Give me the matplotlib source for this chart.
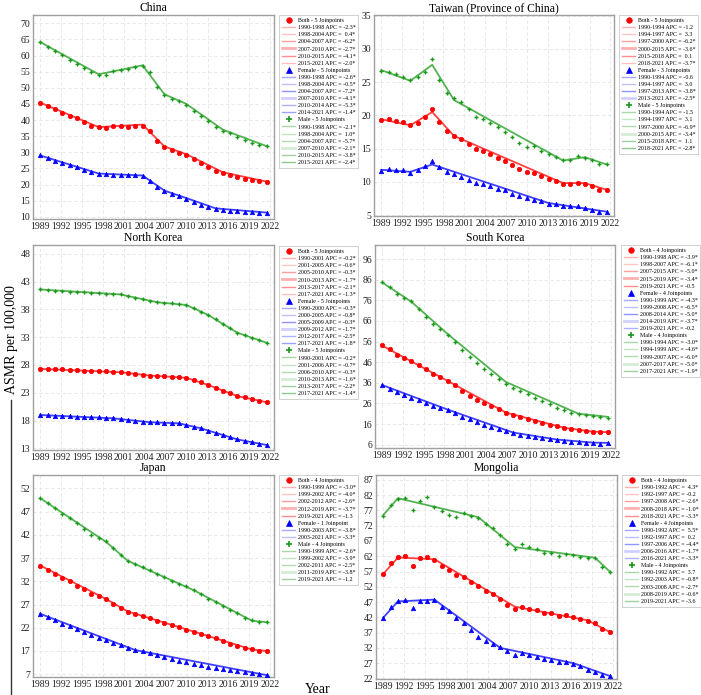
import matplotlib
matplotlib.use("Agg")
import matplotlib.pyplot as plt
from matplotlib.lines import Line2D

plt.rcParams['font.family'] = ['Liberation Serif', 'DejaVu Serif']

years = list(range(1990, 2022))
x_tick_labels = [str(y) for y in range(1989, 2023, 3)]

# ---- China ----
china_both = [45.4, 44.5, 43.3, 42.3, 41.2, 40.5, 39.4, 38.3, 37.8, 37.6, 38.1, 38.1, 38.0, 38.2, 38.3, 36.7,
              33.6, 31.6, 30.8, 29.9, 29.1, 27.8, 26.6, 25.3, 24.2, 23.5, 23.0, 22.3, 21.8, 21.4, 21.1, 20.7]
china_both_jp = [1990, 1998, 2004, 2007, 2010, 2015, 2021]
china_both_fit = [45.4, 37.8, 38.6, 31.8, 29.4, 23.8, 20.9]
china_both_apc = ["-2.3*", "0.4*", "-6.2*", "-2.7*", "-4.1*", "-2.0*"]
china_female = [29.1, 28.3, 27.4, 26.7, 26.1, 25.3, 24.6, 23.9, 23.3, 23.2, 23.1, 23.1, 22.9, 22.8, 22.6, 21.1,
                19.3, 17.9, 17.1, 16.4, 15.6, 14.6, 13.6, 12.9, 12.3, 12.1, 11.8, 11.7, 11.5, 11.4, 11.2, 11.1]
china_female_jp = [1990, 1998, 2004, 2007, 2010, 2014, 2021]
china_female_fit = [29.0, 23.4, 22.8, 18.1, 15.8, 12.6, 11.3]
china_female_apc = ["-2.6*", "-0.5*", "-7.2*", "-4.1*", "-5.3*", "-1.4*"]
china_male = [64.2, 62.8, 61.5, 60.1, 58.5, 57.5, 56.1, 54.9, 54.1, 54.0, 55.2, 55.4, 55.8, 56.5, 56.9, 54.8,
              50.3, 47.7, 46.6, 45.8, 44.6, 42.9, 41.3, 39.8, 37.9, 36.6, 35.9, 34.8, 33.8, 32.9, 32.4, 31.8]
china_male_jp = [1990, 1998, 2004, 2007, 2010, 2015, 2021]
china_male_fit = [64.2, 54.2, 57.0, 48.0, 45.0, 37.0, 31.9]
china_male_apc = ["-2.1*", "1.0*", "-5.7*", "-2.1*", "-3.8*", "-2.4*"]

# ---- Taiwan (Province of China) ----
taiwan_both = [19.3, 19.4, 19.2, 19.0, 18.6, 18.9, 19.7, 21.0, 19.0, 17.6, 16.9, 16.5, 15.7, 14.9, 14.7, 14.2,
               13.6, 13.1, 12.5, 11.9, 11.4, 11.3, 10.9, 10.4, 10.1, 9.7, 9.7, 9.8, 9.6, 9.3, 8.8, 8.8]
taiwan_both_jp = [1990, 1994, 1997, 2000, 2015, 2018, 2021]
taiwan_both_fit = [19.4, 18.5, 20.5, 16.9, 9.8, 9.8, 8.8]
taiwan_both_apc = ["-1.2", "3.3", "-6.2*", "-3.6*", "0.1", "-3.7*"]
taiwan_female = [11.6, 11.9, 11.8, 11.8, 11.3, 11.8, 12.4, 13.1, 12.2, 11.5, 11.1, 10.7, 10.2, 9.8, 9.7, 9.3,
                 8.9, 8.7, 8.1, 7.9, 7.6, 7.3, 7.1, 6.7, 6.6, 6.4, 6.3, 6.3, 6.1, 5.8, 5.4, 5.5]
taiwan_female_jp = [1990, 1994, 1997, 2013, 2021]
taiwan_female_fit = [11.8, 11.5, 12.6, 6.8, 5.5]
taiwan_female_apc = ["-0.6", "3.0", "-3.8*", "-2.5*"]
taiwan_male = [26.7, 26.5, 26.2, 25.8, 25.3, 25.7, 26.5, 28.5, 25.3, 23.4, 22.6, 22.0, 21.0, 19.8, 19.5, 18.9,
               18.2, 17.5, 16.8, 15.9, 15.3, 15.4, 14.7, 14.2, 13.8, 13.3, 13.3, 13.9, 13.6, 13.3, 12.7, 12.7]
taiwan_male_jp = [1990, 1994, 1997, 2000, 2015, 2018, 2021]
taiwan_male_fit = [26.8, 25.2, 27.6, 22.3, 13.2, 13.7, 12.6]
taiwan_male_apc = ["-1.5", "3.1", "-6.9*", "-3.4*", "1.1", "-2.8*"]

# ---- North Korea ----
nkorea_both = [27.3, 27.3, 27.2, 27.2, 27.1, 27.1, 27.0, 27.0, 26.9, 26.9, 26.8, 26.7, 26.5, 26.4, 26.2, 26.1,
               26.0, 26.0, 25.9, 25.8, 25.7, 25.3, 24.9, 24.4, 23.9, 23.4, 22.9, 22.5, 22.2, 21.9, 21.6, 21.3]
nkorea_both_jp = [1990, 2001, 2005, 2010, 2013, 2017, 2021]
nkorea_both_fit = [27.3, 26.7, 26.1, 25.7, 24.4, 22.4, 21.3]
nkorea_both_apc = ["-0.2*", "-0.6*", "-0.3*", "-1.7*", "-2.1*", "-1.3*"]
nkorea_female = [19.0, 19.0, 18.9, 18.8, 18.8, 18.7, 18.7, 18.6, 18.6, 18.5, 18.4, 18.3, 18.1, 18.0, 17.8, 17.7,
                 17.7, 17.6, 17.6, 17.5, 17.2, 16.9, 16.6, 16.2, 15.8, 15.4, 15.0, 14.6, 14.4, 14.1, 13.8, 13.6]
nkorea_female_jp = [1990, 2000, 2005, 2009, 2012, 2017, 2021]
nkorea_female_fit = [19.0, 18.4, 17.7, 17.5, 16.6, 14.6, 13.6]
nkorea_female_apc = ["-0.3*", "-0.8*", "-0.3*", "-1.7*", "-2.5*", "-1.8*"]
nkorea_male = [41.6, 41.5, 41.4, 41.3, 41.2, 41.1, 41.1, 41.0, 40.9, 40.8, 40.8, 40.7, 40.4, 40.1, 39.8, 39.6,
               39.3, 39.2, 39.1, 38.9, 38.8, 38.2, 37.6, 37.0, 36.2, 35.4, 34.6, 33.8, 33.4, 32.9, 32.5, 32.0]
nkorea_male_jp = [1990, 2001, 2006, 2010, 2013, 2017, 2021]
nkorea_male_fit = [41.6, 40.7, 39.3, 38.8, 37.0, 33.8, 32.0]
nkorea_male_apc = ["-0.2*", "-0.7*", "-0.3*", "-1.6*", "-2.2*", "-1.4*"]

# ---- South Korea ----
skorea_both = [54.2, 52.3, 49.5, 47.8, 46.5, 44.7, 42.5, 40.4, 38.7, 37.1, 34.9, 32.0, 29.7, 27.9, 26.3, 24.9,
               23.3, 21.5, 20.4, 19.2, 18.3, 17.3, 16.3, 15.5, 14.9, 14.1, 13.6, 13.1, 12.6, 12.3, 12.0, 12.1]
skorea_both_jp = [1990, 1998, 2007, 2015, 2019, 2021]
skorea_both_fit = [54.0, 38.8, 21.6, 14.2, 12.3, 12.1]
skorea_both_apc = ["-3.9*", "-6.1*", "-5.0*", "-3.4*", "-0.5"]
skorea_female = [34.9, 32.9, 31.5, 29.9, 28.6, 27.5, 26.2, 24.9, 23.9, 22.8, 21.3, 19.5, 18.3, 17.0, 15.7, 14.5,
                 13.4, 12.5, 11.6, 10.8, 10.2, 9.7, 9.1, 8.6, 8.1, 7.8, 7.5, 7.3, 7.0, 6.6, 6.5, 6.6]
skorea_female_jp = [1990, 1999, 2008, 2014, 2019, 2021]
skorea_female_fit = [34.9, 23.0, 11.9, 8.5, 7.0, 6.9]
skorea_female_apc = ["-4.3*", "-6.5*", "-5.0*", "-3.7*", "-0.2"]
skorea_male = [85.0, 82.6, 78.9, 77.0, 75.8, 71.6, 68.1, 64.5, 62.0, 59.4, 55.8, 52.0, 48.4, 45.5, 42.6, 40.2,
               37.8, 35.4, 33.6, 31.8, 30.4, 28.7, 27.0, 25.5, 23.9, 22.8, 21.6, 21.0, 20.4, 19.7, 19.2, 19.1]
skorea_male_jp = [1990, 1994, 1999, 2007, 2017, 2021]
skorea_male_fit = [84.6, 75.3, 59.6, 36.4, 21.0, 19.5]
skorea_male_apc = ["-3.0*", "-4.6*", "-6.0*", "-5.0*", "-1.9*"]

# ---- Japan ----
japan_both = [30.4, 29.5, 28.6, 27.8, 27.0, 26.1, 25.3, 24.3, 23.9, 23.2, 22.2, 21.3, 20.4, 19.9, 19.5, 19.0,
              18.5, 18.0, 17.5, 17.1, 16.6, 16.1, 15.7, 15.2, 14.7, 14.1, 13.6, 13.1, 12.6, 12.4, 12.0, 12.1]
japan_both_jp = [1990, 1999, 2002, 2012, 2019, 2021]
japan_both_fit = [30.4, 23.2, 20.5, 15.7, 12.3, 12.0]
japan_both_apc = ["-3.0*", "-4.0*", "-2.6*", "-3.7*", "-1.3"]
japan_female = [20.0, 19.3, 18.6, 17.9, 17.3, 16.7, 16.1, 15.4, 14.9, 14.4, 13.8, 13.2, 12.6, 12.2, 11.9, 11.5,
                11.1, 10.7, 10.3, 9.9, 9.6, 9.3, 8.9, 8.6, 8.4, 8.1, 7.8, 7.6, 7.4, 7.2, 7.0, 6.9]
japan_female_jp = [1990, 2003, 2021]
japan_female_fit = [20.0, 12.2, 6.8]
japan_female_apc = ["-3.8*", "-3.3*"]
japan_male = [44.9, 43.9, 42.9, 41.6, 40.6, 39.5, 38.3, 37.0, 36.4, 35.6, 34.1, 32.7, 31.4, 30.7, 30.1, 29.4,
              28.6, 27.9, 27.1, 26.5, 25.9, 25.2, 24.3, 23.3, 22.5, 21.6, 20.9, 20.1, 19.2, 18.6, 18.3, 18.3]
japan_male_jp = [1990, 1999, 2002, 2011, 2019, 2021]
japan_male_fit = [44.9, 35.5, 31.4, 25.1, 18.5, 18.2]
japan_male_apc = ["-2.6*", "-3.9*", "-2.5*", "-3.8*", "-1.2"]

# ---- Mongolia ----
mongolia_both = [56.2, 59.7, 61.9, 62.0, 58.8, 61.3, 61.9, 60.7, 58.8, 57.4, 56.0, 55.3, 53.7, 52.1, 50.6, 49.5,
                 48.0, 46.0, 44.7, 45.5, 44.6, 44.3, 43.5, 43.3, 42.4, 42.6, 42.2, 41.4, 40.9, 40.0, 38.1, 37.2]
mongolia_both_jp = [1990, 1992, 1997, 2008, 2018, 2021]
mongolia_both_fit = [56.2, 61.6, 61.0, 45.5, 41.0, 37.2]
mongolia_both_apc = ["4.3*", "-0.2", "-2.6*", "-1.0*", "-3.3*"]
mongolia_female = [41.9, 45.5, 47.5, 47.8, 44.9, 47.3, 47.3, 47.7, 45.5, 44.0, 41.8, 40.0, 37.8, 35.6, 34.3, 33.1,
                   32.4, 30.9, 29.8, 30.2, 29.6, 29.1, 28.3, 28.0, 27.3, 27.4, 26.8, 26.0, 24.9, 24.1, 23.1, 22.7]
mongolia_female_jp = [1990, 1992, 1997, 2006, 2016, 2021]
mongolia_female_fit = [41.9, 47.2, 47.8, 32.0, 27.0, 22.8]
mongolia_female_apc = ["5.5*", "0.2", "-4.4*", "-1.7*", "-3.3*"]
mongolia_male = [75.2, 78.9, 80.9, 81.0, 77.1, 80.2, 81.5, 78.0, 76.8, 75.6, 75.0, 76.1, 75.3, 74.5, 72.7, 71.4,
                 69.0, 66.0, 64.3, 66.0, 65.0, 64.3, 63.2, 63.2, 62.0, 62.7, 62.4, 61.9, 61.5, 61.3, 58.6, 57.0]
mongolia_male_jp = [1990, 1992, 2003, 2008, 2019, 2021]
mongolia_male_fit = [75.5, 81.0, 74.8, 65.0, 61.5, 57.0]
mongolia_male_apc = ["3.7", "-0.8*", "-2.7*", "-0.6*", "-3.6"]

# looks
W, H = 701, 695
RED, BLUE, GREEN = '#ff0000', '#0000ff', '#1a9a1a'
red_shades = ['#ffb4b4', '#ffc4c4', '#ff9c9c', '#ffb0b0', '#ff8c8c', '#ffc0c0']
blue_shades = ['#a8a8ff', '#c0c0ff', '#9090ff', '#d0d0ff', '#b0b0ff', '#a0a0ff']
green_shades = ['#a8d8a8', '#c4e4c4', '#b0dcb0', '#d4ecd4', '#a0d0a0', '#8cc88c']
seg_widths = [1.0, 1.0, 1.0, 2.0, 1.0, 1.0]


def px_box(left, top, right, bottom):
    return [left / W, 1 - bottom / H, (right - left) / W, (bottom - top) / H]


def joinpoint_word(n):
    return f"{n} Joinpoint" if n == 1 else f"{n} Joinpoints"


def draw_panel(fig, box, leg_xy, title, series, yticks, ylim, ylabels=None):
    ax = fig.add_axes(px_box(*box))
    handles, labels = [], []
    for name, obs, jp, fit, apc, color, marker, ms, shades in series:
        ax.plot(jp, fit, color=color, lw=1.3, alpha=0.75, zorder=2)
        ax.plot(years, obs, linestyle='None', marker=marker, color=color, ms=ms,
                mew=1.0 if marker == '+' else 0.5, zorder=3)
        handles.append(Line2D([], [], linestyle='None', marker=marker, color=color,
                              ms=ms + 0.8, mew=1.2 if marker == '+' else 0.5))
        labels.append(f"{name} - {joinpoint_word(len(jp) - 2)}")
        for i, a in enumerate(apc):
            handles.append(Line2D([], [], color=shades[i % len(shades)], lw=seg_widths[i % len(seg_widths)]))
            pad = " " if not a.startswith('-') else ""
            labels.append(f"{jp[i]}-{jp[i + 1]} APC = {pad}{a}")

    ax.set_xlim(1989.0, 2022.0)
    ax.set_xticks([1989.95 + k * (2021.5 - 1989.95) / 11 for k in range(12)])
    ax.set_xticklabels(x_tick_labels)
    ax.set_ylim(*ylim)
    ax.set_yticks(yticks)
    ax.set_yticklabels(ylabels if ylabels else [str(t) for t in yticks])
    ax.tick_params(length=0, pad=2, labelsize=7, colors='#222222')
    ax.grid(True, color='#e4e4e4', linestyle=(0, (4, 3)), linewidth=0.6)
    for s in ax.spines.values():
        s.set_color('#a0a0a0')
        s.set_linewidth(1.0)
    ax.set_title(title, fontsize=8.4, pad=3)

    leg = ax.legend(handles, labels, loc='upper left',
                    bbox_to_anchor=(leg_xy[0] / W, 1 - leg_xy[1] / H),
                    bbox_transform=fig.transFigure, borderaxespad=0,
                    fontsize=4.3, handlelength=2.2, handletextpad=0.4,
                    labelspacing=0.32, borderpad=0.5, fancybox=False,
                    framealpha=1, edgecolor='#d0d0d0')
    leg.get_frame().set_linewidth(0.7)
    return ax


fig = plt.figure(figsize=(W / 100, H / 100), dpi=100)


def trio(prefix):
    g = globals()
    return [
        ("Both", g[prefix + "_both"], g[prefix + "_both_jp"], g[prefix + "_both_fit"],
         g[prefix + "_both_apc"], RED, 'o', 3.2, red_shades),
        ("Female", g[prefix + "_female"], g[prefix + "_female_jp"], g[prefix + "_female_fit"],
         g[prefix + "_female_apc"], BLUE, '^', 3.2, blue_shades),
        ("Male", g[prefix + "_male"], g[prefix + "_male_jp"], g[prefix + "_male_fit"],
         g[prefix + "_male_apc"], GREEN, '+', 3.5, green_shades),
    ]


draw_panel(fig, (33, 15, 274, 219), (279, 15), "China", trio("china"),
           list(range(10, 71, 5)), (9.3, 72.6))
draw_panel(fig, (374, 15, 614, 216), (619, 15), "Taiwan (Province of China)", trio("taiwan"),
           list(range(5, 36, 5)), (4.85, 35.1))
draw_panel(fig, (33, 245, 274, 450), (279, 246), "North Korea", trio("nkorea"),
           list(range(13, 49, 5)), (12.7, 49.6))
draw_panel(fig, (375, 245, 615, 448), (621, 245), "South Korea", trio("skorea"),
           list(range(6, 97, 10)), (4.4, 102.8))
# the reference labels this axis 7, 17, 22, ... (the "12" label is missing)
draw_panel(fig, (33, 475, 274, 677), (279, 475), "Japan", trio("japan"),
           list(range(7, 48, 5)), (6.4, 49.9),
           ylabels=["7"] + [str(v) for v in range(17, 53, 5)])
draw_panel(fig, (376, 475, 617, 679), (622, 475), "Mongolia", trio("mongolia"),
           list(range(22, 88, 5)), (21.8, 88.6))

fig.text(11.5 / W, 1 - 340 / H, "ASMR per 100,000", rotation=90, ha='center', va='center', fontsize=10)
fig.add_artist(Line2D([10.5 / W, 10.5 / W], [1 - 400 / H, 0], transform=fig.transFigure,
                      color='#333333', lw=1.0))
fig.text(318 / W, 1 - 693 / H, "Year", ha='center', va='baseline', fontsize=10)

fig.savefig("out.png", dpi=100)
